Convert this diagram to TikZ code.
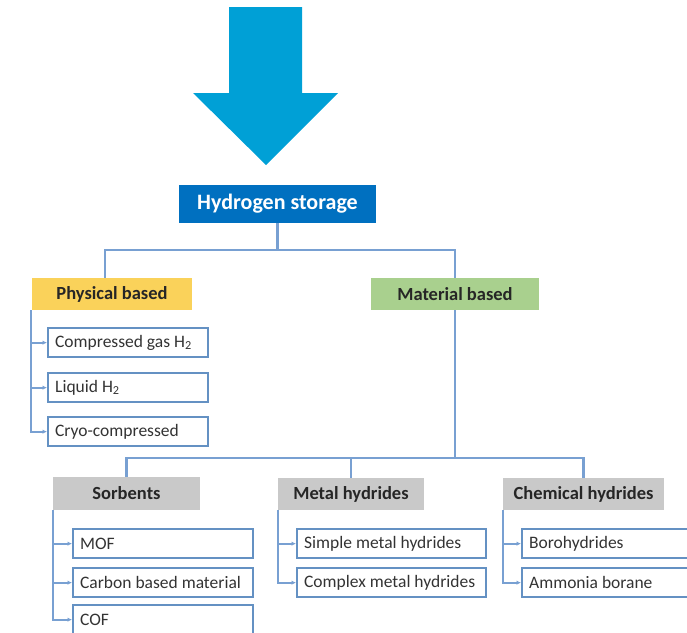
\documentclass[tikz,border=0pt]{standalone}
\usepackage{fontspec}
\setmainfont{Carlito}
\usetikzlibrary{arrows.meta}
\definecolor{arrowblue}{RGB}{0,160,214}
\definecolor{hsblue}{RGB}{0,112,192}
\definecolor{physyel}{RGB}{250,210,90}
\definecolor{matgreen}{RGB}{169,208,142}
\definecolor{catgray}{RGB}{201,201,201}
\definecolor{boxline}{RGB}{100,145,195}
\definecolor{conline}{RGB}{120,160,210}
\newcommand{\lbox}[2]{\makebox[#1pt][l]{#2}}
\begin{document}
\begin{tikzpicture}[x=1pt,y=-1pt,
  hdr/.style={rectangle, inner sep=0pt, font=\fontsize{18.5}{20}\selectfont\bfseries, text=black!85},
  item/.style={rectangle, draw=boxline, line width=2.3pt, anchor=north west, inner xsep=7pt, inner ysep=0pt,
    minimum height=29, font=\fontsize{17.5}{20}\selectfont, text=black!80},
  conn/.style={draw=conline, line width=2.2pt},
  arr/.style={conn, -{Latex[length=4.5pt,width=4.5pt]}}]
\useasboundingbox (0,0) rectangle (687,632);
\clip (0,0) rectangle (687,632);
% big arrow
\fill[arrowblue] (229,7) -- (302,7) -- (302,93) -- (338,93) -- (266,165) -- (193,93) -- (229,93) -- cycle;
% headers
\node[hdr, fill=hsblue, text=white, minimum width=197, minimum height=38, font=\fontsize{22}{24}\selectfont\bfseries] (hs) at (277.5,204) {Hydrogen storage};
\node[hdr, fill=physyel, minimum width=160, minimum height=32] (phys) at (112,294) {Physical based};
\node[hdr, fill=matgreen, minimum width=168, minimum height=32] (mat) at (455,294) {Material based};
\node[hdr, fill=catgray, minimum width=147, minimum height=33] (sorb) at (126.5,493.5) {Sorbents};
\node[hdr, fill=catgray, minimum width=146, minimum height=32] (metal) at (351,494) {Metal hydrides};
\node[hdr, fill=catgray, minimum width=161, minimum height=32] (chem) at (583.5,494) {Chemical hydrides};
% items
\node[item] (comp) at (47,327) {\lbox{146}{Compressed gas H\textsubscript{2}}};
\node[item] (liq) at (47,372) {\lbox{146}{Liquid H\textsubscript{2}}};
\node[item] (cryo) at (47,416) {\lbox{146}{Cryo-compressed}};
\node[item] (mof) at (72,528) {\lbox{166}{MOF}};
\node[item] (carb) at (72,567) {\lbox{166}{Carbon based material}};
\node[item] (cof) at (72,604) {\lbox{166}{COF}};
\node[item] (simple) at (296,528) {\lbox{175}{Simple metal hydrides}};
\node[item] (complex) at (296,567) {\lbox{175}{Complex metal hydrides}};
\node[item] (boro) at (521,528) {\lbox{166}{Borohydrides}};
\node[item] (amm) at (521,567) {\lbox{166}{Ammonia borane}};
% connectors
\coordinate (bus1) at (277.5,250);
\draw[conn] (hs.south) -- (bus1);
\draw[conn] (bus1) -| ([xshift=-7]phys.north);
\draw[conn] (bus1) -| (mat.north);
\coordinate (bus2) at (455,458);
\draw[conn] (mat.south) -- (bus2);
\draw[conn] (bus2) -| (sorb.north);
\draw[conn] (bus2) -| (metal.north);
\draw[conn] (bus2) -| (chem.north);
\draw[arr] ([xshift=-1]phys.south west) |- (comp.west);
\draw[arr] ([xshift=-1]phys.south west) |- (liq.west);
\draw[arr] ([xshift=-1]phys.south west) |- (cryo.west);
\draw[arr] (sorb.south west) |- (mof.west);
\draw[arr] (sorb.south west) |- (carb.west);
\draw[arr] (sorb.south west) |- (cof.west);
\draw[arr] (metal.south west) |- (simple.west);
\draw[arr] (metal.south west) |- (complex.west);
\draw[arr] (chem.south west) |- (boro.west);
\draw[arr] (chem.south west) |- (amm.west);
\end{tikzpicture}
\end{document}
